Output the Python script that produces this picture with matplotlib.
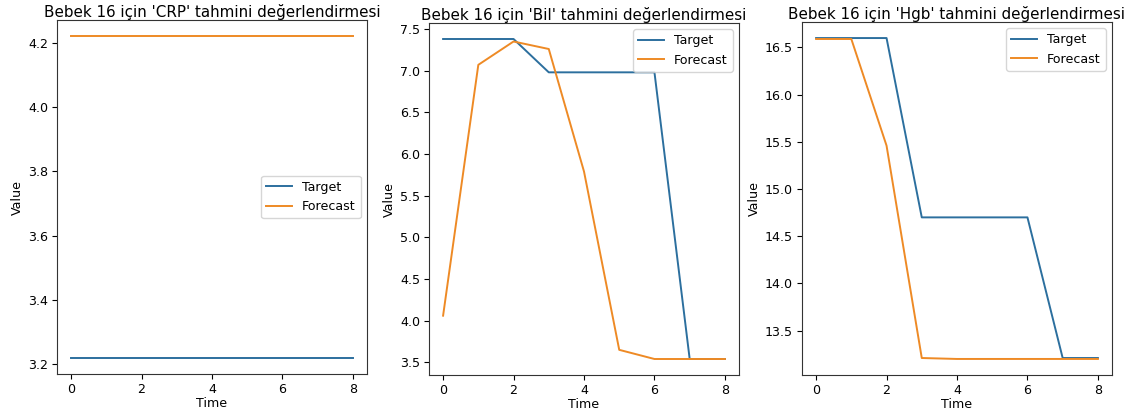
import matplotlib
matplotlib.use("Agg")
from matplotlib import pyplot as plt

time = list(range(9))

crp_target = [3.22] * 9
crp_forecast = [4.22] * 9

bil_target = [7.38, 7.38, 7.38, 6.98, 6.98, 6.98, 6.98, 3.54, 3.54]
bil_forecast = [4.06, 7.07, 7.35, 7.26, 5.79, 3.65, 3.54, 3.54, 3.54]

hgb_target = [16.60, 16.60, 16.60, 14.70, 14.70, 14.70, 14.70, 13.21, 13.21]
hgb_forecast = [16.59, 16.59, 15.46, 13.21, 13.20, 13.20, 13.20, 13.20, 13.20]

names = ["CRP", "Bil", "Hgb"]
targets = [crp_target, bil_target, hgb_target]
forecasts = [crp_forecast, bil_forecast, hgb_forecast]

W, H = 1134, 419
fig = plt.figure(figsize=(W / 100, H / 100), dpi=100)

# axes boxes in pixels: left, top, right, bottom
boxes = [(57, 20, 367, 374), (429, 23, 739, 375), (802, 22, 1112, 375)]

for name, tgt, fc, (l, t, r, b) in zip(names, targets, forecasts, boxes):
    ax = fig.add_axes([l / W, 1 - b / H, (r - l) / W, (b - t) / H])
    ax.plot(time, tgt, label="Target", color="#2c6f9e", linewidth=1.4)
    ax.plot(time, fc, label="Forecast", color="#ee8a25", linewidth=1.4)
    ax.set_title(f"Bebek 16 için '{name}' tahmini değerlendirmesi", fontsize=10.9, pad=2.5)
    ax.set_xlabel("Time", fontsize=9.1, labelpad=1)
    ax.set_ylabel("Value", fontsize=9.1, labelpad=3)
    ax.set_xticks(range(0, 9, 2))
    ax.tick_params(labelsize=9.1, length=3.5, pad=3)
    for s in ax.spines.values():
        s.set_color("#333333")
    ax.legend(fontsize=9.1)

plt.savefig("out.png", dpi=100)
